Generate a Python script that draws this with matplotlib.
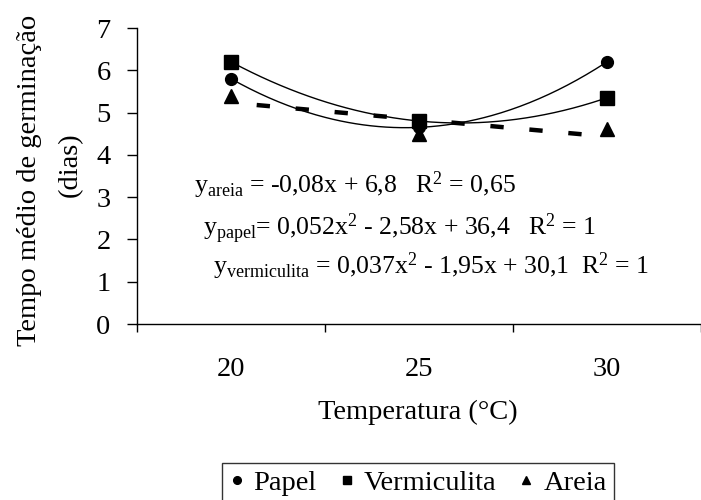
import numpy as np
import matplotlib
matplotlib.use("Agg")
import matplotlib.pyplot as plt

# ---- data ----
temps = ["20", "25", "30"]
papel = [5.8, 4.65, 6.2]
vermiculita = [6.2, 4.8, 5.35]
areia = [5.4, 4.5, 4.6]
eq_areia = r"y$_{\mathrm{areia}}$ = -0,08x + 6,8   R$^{2}$ = 0,65"
eq_papel = r"y$_{\mathrm{papel}}$= 0,052x$^{2}$ - 2,58x + 36,4   R$^{2}$ = 1"
eq_verm = r"y$_{\mathrm{vermiculita}}$ = 0,037x$^{2}$ - 1,95x + 30,1  R$^{2}$ = 1"

plt.rcParams['font.family'] = ['Liberation Serif', 'DejaVu Serif']
plt.rcParams['mathtext.fontset'] = 'custom'
plt.rcParams['mathtext.rm'] = 'Liberation Serif'
plt.rcParams['mathtext.it'] = 'Liberation Serif:italic'
plt.rcParams['mathtext.bf'] = 'Liberation Serif:bold'
plt.rcParams['mathtext.sf'] = 'Liberation Serif'
plt.rcParams['mathtext.default'] = 'regular'

FS = 20.5
EFS = 18.5

fig = plt.figure(figsize=(7.01, 5.00), dpi=100)
ax = fig.add_axes([137/701, 1-324/500, 1-137/701, (324-28)/500])

x = np.arange(1, len(temps)+1)
xf = np.linspace(1, 3, 200)

# quadratic trendlines for papel and vermiculita
for vals in (papel, vermiculita):
    c = np.polyfit(x, vals, 2)
    ax.plot(xf, np.polyval(c, xf), color='black', lw=1.0, zorder=2)
# linear trendline for areia
c = np.polyfit(x, areia, 1)
ax.plot(xf, np.polyval(c, xf), color='black', lw=3.2,
        linestyle=(3, (3.0, 5.8)), dash_capstyle='butt', zorder=2)

ax.plot(x, papel, 'o', color='black', ms=8.5, ls='none', label='Papel', zorder=3)
ax.plot(x, vermiculita, 's', color='black', ms=9.5, ls='none', label='Vermiculita', zorder=3)
ax.plot(x, areia, '^', color='black', ms=9.5, ls='none', label='Areia', zorder=3)

ax.set_xlim(0.5, 3.5)
ax.set_ylim(0, 7)
ax.set_xticks([0.5, 1.5, 2.5, 3.5])
ax.set_xticklabels([])
ax.set_xticks(x, minor=True)
ax.set_xticklabels(temps, minor=True, fontsize=FS)
ax.tick_params(axis='x', which='major', direction='out', length=5.5, width=1.0)
ax.tick_params(axis='x', which='minor', length=0, pad=24)
ax.set_yticks(range(0, 8))
ax.tick_params(axis='y', direction='out', length=7, width=1.0, pad=12, labelsize=FS)
for s in ('top', 'right'):
    ax.spines[s].set_visible(False)
for s in ('left', 'bottom'):
    ax.spines[s].set_linewidth(1.0)

fig.text(418/701, 1-412/500, "Temperatura (°C)", fontsize=FS, ha='center', va='center')
fig.text(30/701, 1-180/500, "Tempo médio de germinação", fontsize=FS, rotation=90,
         ha='center', va='center')
fig.text(70/701, 1-165/500, "(dias)", fontsize=FS, rotation=90, ha='center', va='center')

fig.text(194/701, 1-193/500, eq_areia, fontsize=EFS, ha='left', va='baseline')
fig.text(203/701, 1-235/500, eq_papel, fontsize=EFS, ha='left', va='baseline')
fig.text(213/701, 1-274/500, eq_verm, fontsize=EFS, ha='left', va='baseline')

h, l = ax.get_legend_handles_labels()
leg = fig.legend(h, l, loc='upper center', bbox_to_anchor=(418/701, 1-463/500),
                 ncol=3, fontsize=FS, frameon=True, fancybox=False, shadow=False,
                 handlelength=0.5, handletextpad=0.35, columnspacing=0.8,
                 borderpad=0.25, markerscale=0.65, borderaxespad=0)
leg.get_frame().set_edgecolor('black')
leg.get_frame().set_linewidth(1.0)

fig.savefig("out.png", dpi=100)
